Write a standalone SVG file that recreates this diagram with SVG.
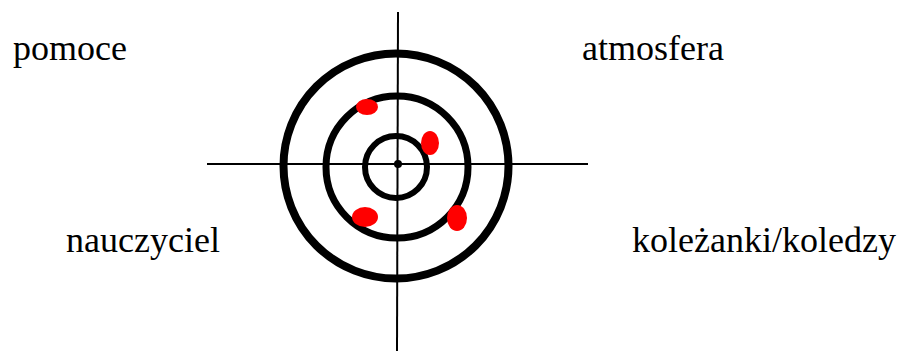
<svg xmlns="http://www.w3.org/2000/svg" width="912" height="351" viewBox="0 0 912 351">
<style>
.lbl{font-family:"Liberation Serif","Times New Roman",serif;font-size:36px;fill:#000}
.ring{fill:none;stroke:#000}
.hit{fill:#f00}
.ax{stroke:#000;stroke-width:2}
</style>
<rect width="912" height="351" fill="#fff"/>
<g id="target">
<circle class="ring" cx="396" cy="166" r="112.5" stroke-width="8"/>
<circle class="ring" cx="397" cy="167" r="71" stroke-width="7"/>
<circle class="ring" cx="396" cy="167" r="31" stroke-width="6"/>
</g>
<g id="connectors">
<line class="ax" x1="207" y1="164" x2="588" y2="164"/>
<line class="ax" x1="398" y1="12" x2="397" y2="351"/>
</g>
<g id="center"><circle cx="398" cy="164" r="4" fill="#000"/></g>
<g id="hits">
<ellipse class="hit" cx="367" cy="107" rx="11" ry="8"/>
<ellipse class="hit" cx="430" cy="143" rx="9" ry="12"/>
<ellipse class="hit" cx="365" cy="217" rx="13" ry="10"/>
<ellipse class="hit" cx="457" cy="218" rx="10" ry="13"/>
</g>
<g id="pomoce"><text class="lbl" x="13" y="60">pomoce</text></g>
<g id="atmosfera"><text class="lbl" x="582" y="60">atmosfera</text></g>
<g id="nauczyciel"><text class="lbl" x="66" y="252">nauczyciel</text></g>
<g id="kolezanki"><text class="lbl" x="632" y="252">koleżanki/koledzy</text></g>
</svg>
